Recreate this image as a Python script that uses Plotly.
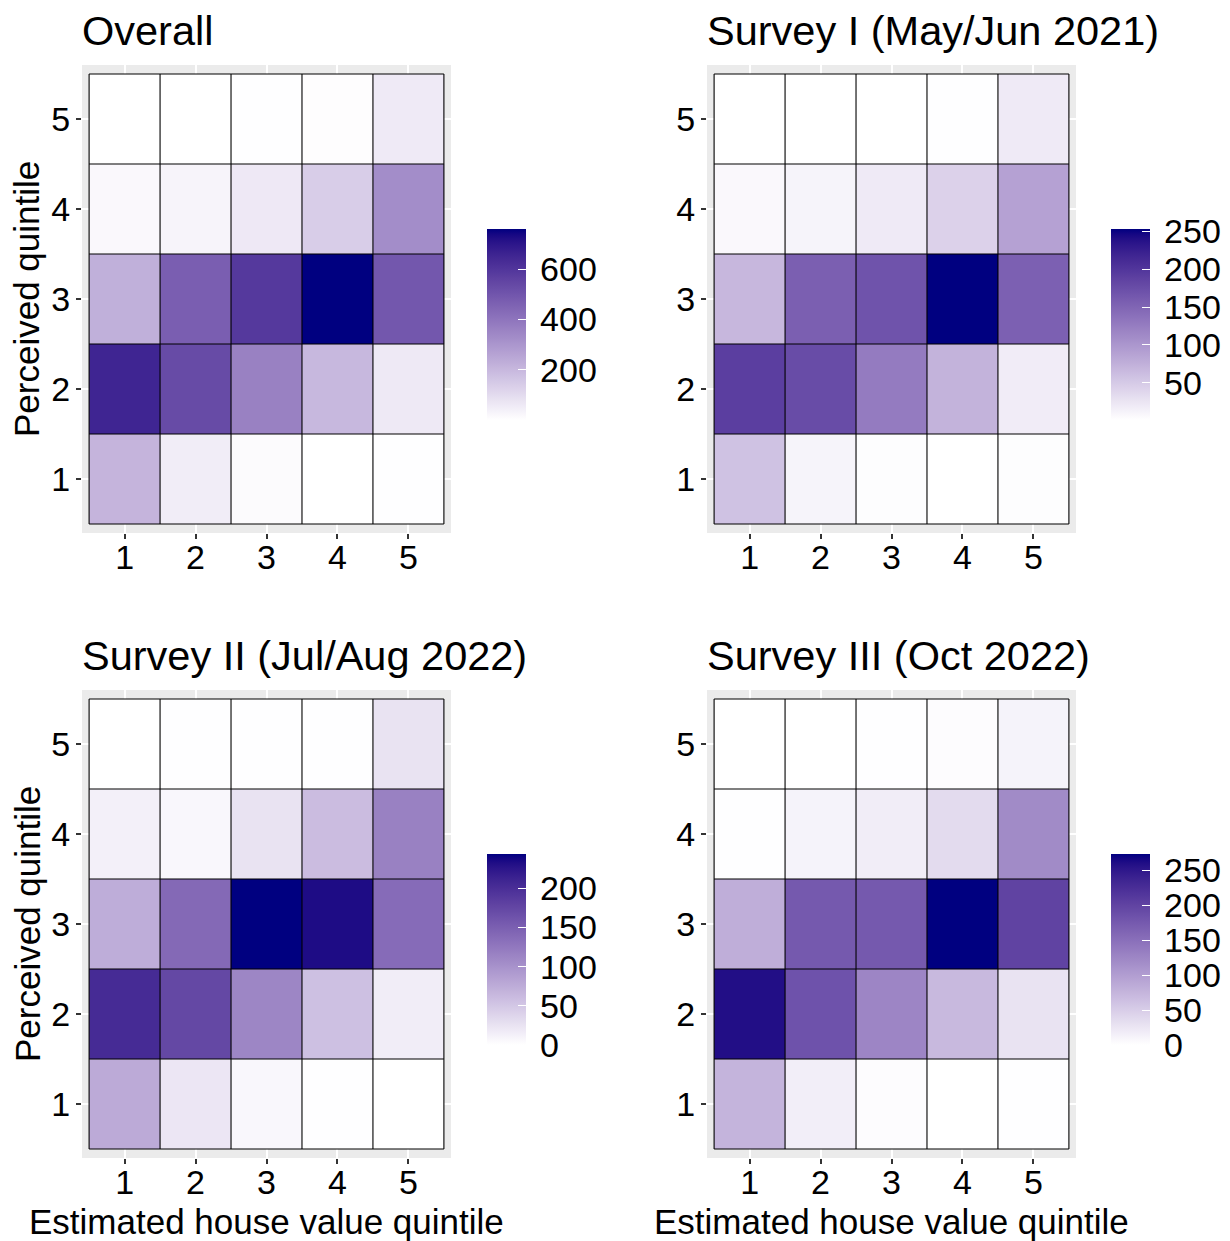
import plotly.graph_objects as go

# ---- data -------------------------------------------------------------
estimated = [1, 2, 3, 4, 5]          # x: estimated house value quintile
perceived = [1, 2, 3, 4, 5]          # y: perceived quintile

# counts, one row per perceived quintile (1..5), columns = estimated quintile 1..5
survey_1 = [
    [58, 11, 3, 1, 3],
    [191, 176, 127, 72, 18],
    [68, 156, 169, 253, 155],
    [7, 11, 20, 43, 89],
    [1, 1, 1, 2, 20],
]
survey_2 = [
    [77, 22, 7, 1, 0],
    [204, 174, 112, 57, 16],
    [74, 140, 244, 233, 138],
    [13, 7, 25, 60, 117],
    [0, 1, 1, 1, 25],
]
survey_3 = [
    [76, 17, 3, 0, 1],
    [259, 183, 126, 71, 28],
    [82, 175, 175, 273, 200],
    [1, 12, 18, 36, 120],
    [0, 0, 1, 3, 12],
]
overall = [[a + b + c for a, b, c in zip(r1, r2, r3)]
           for r1, r2, r3 in zip(survey_1, survey_2, survey_3)]

panel_titles = ["Overall", "Survey I (May/Jun 2021)",
                "Survey II (Jul/Aug 2022)", "Survey III (Oct 2022)"]
panel_data = [overall, survey_1, survey_2, survey_3]
legend_dticks = [200, 50, 50, 50]

# ---- white -> navy gradient interpolated in CIE Lab -------------------
def _lin(c):
    c /= 255.0
    return c / 12.92 if c <= 0.04045 else ((c + 0.055) / 1.055) ** 2.4

def _gam(c):
    c = max(0.0, min(1.0, c))
    v = 12.92 * c if c <= 0.0031308 else 1.055 * c ** (1 / 2.4) - 0.055
    return round(255 * v)

WHITE_REF = (0.95047, 1.0, 1.08883)

def _f(t):
    return t ** (1 / 3) if t > (6 / 29) ** 3 else t / (3 * (6 / 29) ** 2) + 4 / 29

def _finv(t):
    return t ** 3 if t > 6 / 29 else 3 * (6 / 29) ** 2 * (t - 4 / 29)

def rgb_to_lab(rgb):
    r, g, b = (_lin(v) for v in rgb)
    x = 0.4124 * r + 0.3576 * g + 0.1805 * b
    y = 0.2126 * r + 0.7152 * g + 0.0722 * b
    z = 0.0193 * r + 0.1192 * g + 0.9505 * b
    fx, fy, fz = _f(x / WHITE_REF[0]), _f(y / WHITE_REF[1]), _f(z / WHITE_REF[2])
    return (116 * fy - 16, 500 * (fx - fy), 200 * (fy - fz))

def lab_to_rgb(lab):
    L, a, b = lab
    fy = (L + 16) / 116
    fx = fy + a / 500
    fz = fy - b / 200
    x, y, z = (_finv(fx) * WHITE_REF[0], _finv(fy) * WHITE_REF[1], _finv(fz) * WHITE_REF[2])
    r = 3.2406 * x - 1.5372 * y - 0.4986 * z
    g = -0.9689 * x + 1.8758 * y + 0.0415 * z
    bl = 0.0557 * x - 0.2040 * y + 1.0570 * z
    return "rgb(%d,%d,%d)" % (_gam(r), _gam(g), _gam(bl))

low, high = rgb_to_lab((255, 255, 255)), rgb_to_lab((0, 0, 128))
n_stops = 41
colorscale = []
for i in range(n_stops):
    t = i / (n_stops - 1)
    colorscale.append([t, lab_to_rgb(tuple(l + (h - l) * t for l, h in zip(low, high)))])

# ---- layout geometry --------------------------------------------------
W, H = 1230, 1241
FONT = "Liberation Sans, Arial, sans-serif"
x_domains = [(82 / W, 451 / W), (707 / W, 1076 / W)]
y_domains = [(1 - 533 / H, 1 - 65 / H), (1 - 1158 / H, 1 - 690 / H)]
cbar_x = [487 / W, 1111 / W]
cbar_top = [1 - 229 / H, 1 - 854 / H]

fig = go.Figure()
annotations = []

x_edges = [v - 0.5 for v in estimated] + [estimated[-1] + 0.5]
y_edges = [v - 0.5 for v in perceived] + [perceived[-1] + 0.5]

for k, (title, z, dt) in enumerate(zip(panel_titles, panel_data, legend_dticks)):
    row, col = divmod(k, 2)
    ax = "" if k == 0 else str(k + 1)
    xref, yref = "x" + ax, "y" + ax

    fig.add_trace(go.Heatmap(
        x=estimated, y=perceived, z=z,
        colorscale=colorscale, xaxis=xref, yaxis=yref,
        colorbar=dict(
            x=cbar_x[col], xanchor="left", xpad=0,
            y=cbar_top[row], yanchor="top", ypad=0,
            lenmode="pixels", len=191,
            thicknessmode="pixels", thickness=39,
            outlinewidth=0,
            tick0=0, dtick=dt,
            ticks="inside", ticklen=8, tickwidth=1.2, tickcolor="white",
            tickprefix="\u2009",
            tickfont=dict(family=FONT, size=34, color="black"),
        ),
        hoverongaps=False,
    ))

    # tile outlines
    xs, ys = [], []
    for xe in x_edges:
        xs += [xe, xe, None]
        ys += [y_edges[0], y_edges[-1], None]
    for ye in y_edges:
        xs += [x_edges[0], x_edges[-1], None]
        ys += [ye, ye, None]
    fig.add_trace(go.Scatter(x=xs, y=ys, mode="lines", xaxis=xref, yaxis=yref,
                             line=dict(color="black", width=1.1),
                             hoverinfo="skip", showlegend=False))

    axis_common = dict(
        range=[0.4, 5.6], tickmode="array", showgrid=True,
        gridcolor="white", gridwidth=1.6, zeroline=False, showline=False,
        ticks="outside", ticklen=5, tickwidth=1.5, tickcolor="#333333",
        tickfont=dict(family=FONT, size=34, color="black"), fixedrange=True,
    )
    fig.update_layout({
        "xaxis" + ax: dict(axis_common, domain=x_domains[col], anchor=yref,
                           ticklabelstandoff=-11,
                           tickvals=estimated, ticktext=[str(v) for v in estimated]),
        "yaxis" + ax: dict(axis_common, domain=y_domains[row], anchor=xref,
                           ticklabelstandoff=-1,
                           tickvals=perceived, ticktext=[str(v) for v in perceived]),
    })

    annotations.append(dict(
        text=title, xref="paper", yref="paper",
        x=x_domains[col][0] - 2 / W, xanchor="left",
        y=y_domains[row][1] + 9 / H, yanchor="bottom",
        showarrow=False, font=dict(family=FONT, size=41.5, color="black"),
    ))
    if col == 0:
        annotations.append(dict(
            text="Perceived quintile", xref="paper", yref="paper",
            x=27 / W, xanchor="center",
            y=(y_domains[row][0] + y_domains[row][1]) / 2, yanchor="middle",
            textangle=-90, showarrow=False,
            font=dict(family=FONT, size=35, color="black"),
        ))
    if row == 1:
        annotations.append(dict(
            text="Estimated house value quintile", xref="paper", yref="paper",
            x=(x_domains[col][0] + x_domains[col][1]) / 2, xanchor="center",
            y=1 - 1221 / H, yanchor="middle", showarrow=False,
            font=dict(family=FONT, size=35, color="black"),
        ))

fig.update_layout(
    width=W, height=H,
    margin=dict(l=0, r=0, t=0, b=0, autoexpand=False),
    paper_bgcolor="white", plot_bgcolor="#EBEBEB",
    font=dict(family=FONT, color="black"),
    showlegend=False,
    annotations=annotations,
)

fig.write_html("out.html")
